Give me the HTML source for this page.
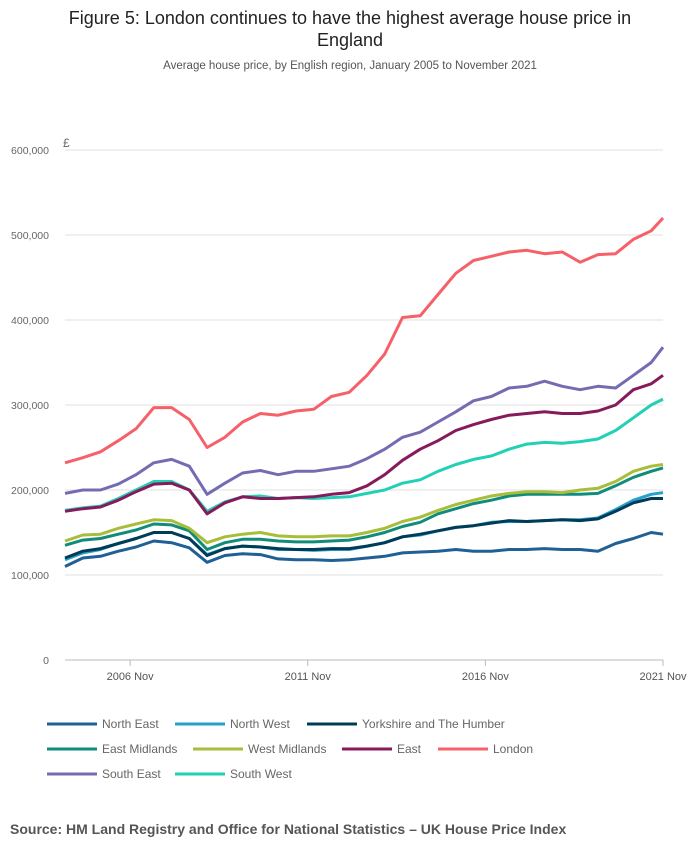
<!DOCTYPE html>
<html><head><meta charset="utf-8"><style>
body{margin:0;background:#fff;font-family:"Liberation Sans",sans-serif;}
#wrap{position:relative;width:700px;height:857px;overflow:hidden}
</style></head><body>
<div id="wrap">
<svg id="chart" width="700" height="857"></svg>
</div>
<script>
const tickValues=[0,100000,200000,300000,400000,500000,600000];
const tickLabels=["0","100,000","200,000","300,000","400,000","500,000","600,000"];
const xTickMonths=[22,82,142,202];
const xTickLabels=["2006 Nov","2011 Nov","2016 Nov","2021 Nov"];
const months=[0,6,12,18,24,30,36,42,48,54,60,66,72,78,84,90,96,102,108,114,120,126,132,138,144,150,156,162,168,174,180,186,192,198,202];
const seriesNames=["North East","North West","Yorkshire and The Humber","East Midlands","West Midlands","East","London","South East","South West"];
const northEast=[110,120,122,128,133,140,138,132,115,123,125,124,119,118,118,117,118,120,122,126,127,128,130,128,128,130,130,131,130,130,128,137,143,150,148];
const northWest=[118,126,130,137,143,150,150,143,124,131,134,133,130,130,129,130,130,134,138,145,147,152,156,158,162,163,163,164,165,165,167,177,188,195,197];
const yorkshire=[120,128,131,137,143,150,150,143,123,131,134,133,131,130,130,131,131,134,138,145,148,152,156,158,161,164,163,164,165,164,166,175,185,190,190];
const eastMidlands=[135,141,143,148,153,160,159,152,130,138,142,142,140,139,139,140,141,145,150,157,162,172,178,184,188,193,195,195,195,195,196,205,215,222,226];
const westMidlands=[140,147,148,155,160,165,164,155,138,145,148,150,146,145,145,146,146,150,155,163,168,176,183,188,193,196,198,198,197,200,202,210,222,228,230];
const east=[175,178,180,188,198,207,208,200,172,185,192,190,190,191,192,195,197,205,218,235,248,258,270,277,283,288,290,292,290,290,293,300,318,325,335];
const london=[232,238,245,258,272,297,297,283,250,262,280,290,288,293,295,310,315,335,360,403,405,430,455,470,475,480,482,478,480,468,477,478,495,505,520];
const southEast=[196,200,200,207,218,232,236,228,195,208,220,223,218,222,222,225,228,237,248,262,268,280,292,305,310,320,322,328,322,318,322,320,335,350,368];
const southWest=[176,179,181,190,200,210,210,200,175,186,192,193,190,191,190,191,192,196,200,208,212,222,230,236,240,248,254,256,255,257,260,270,285,300,307];
const allSeries=[northEast,northWest,yorkshire,eastMidlands,westMidlands,east,london,southEast,southWest];
const colors=["#206095","#27a0cc","#003c57","#118c7b","#a8bd3a","#871a5b","#f66068","#746cb1","#22d0b6"];
const NS="http://www.w3.org/2000/svg";
const svg=document.getElementById('chart');
const xS=m=>65+m*(598/202);
const yS=v=>660-v*(510/600000);
function mk(t,a,txt){const e=document.createElementNS(NS,t);for(const k in a)e.setAttribute(k,a[k]);if(txt!==undefined)e.textContent=txt;svg.appendChild(e);return e;}
let e;
e=mk('text',{x:350,y:24,'text-anchor':'middle','font-size':18,fill:'#222'},'Figure 5: London continues to have the highest average house price in');


e=mk('text',{x:350,y:46,'text-anchor':'middle','font-size':18,fill:'#222'},'England');


e=mk('text',{x:350,y:69,'text-anchor':'middle','font-size':11.5,fill:'#555'},'Average house price, by English region, January 2005 to November 2021');


e=mk('text',{x:63,y:147,'font-size':12,fill:'#666'},'£');


tickValues.forEach((v,i)=>{
 if(v>0){e=mk('line',{x1:65,x2:663,y1:yS(v),y2:yS(v),stroke:'#e2e2e2','stroke-width':1});
 
 }
 e=mk('text',{x:49,y:yS(v)+4,'text-anchor':'end','font-size':10.5,fill:'#666'},tickLabels[i]);
 
 
});
e=mk('line',{x1:65,x2:663,y1:660,y2:660,stroke:'#bbb','stroke-width':1});


xTickMonths.forEach((m,i)=>{
 e=mk('line',{x1:xS(m),x2:xS(m),y1:660,y2:666,stroke:'#bbb'});
 
 
 e=mk('text',{x:xS(m),y:680,'text-anchor':'middle','font-size':11,fill:'#555'},xTickLabels[i]);
 
 
});
const drawOrder=[0,1,2,3,4,8,5,7,6];
drawOrder.forEach(si=>{
 const d=allSeries[si].map((v,i)=>(i?'L':'M')+xS(months[i]).toFixed(1)+','+yS(v*1000).toFixed(1)).join('');
 e=mk('path',{d:d,fill:'none',stroke:colors[si],'stroke-width':3,'stroke-linejoin':'round'});
 
 
});
const legX=[47,175,307,47,193,342,438,47,175];
const legY=[724,724,724,749,749,749,749,774,774];
seriesNames.forEach((n,i)=>{
 e=mk('line',{x1:legX[i],x2:legX[i]+50,y1:legY[i],y2:legY[i],stroke:colors[i],'stroke-width':3});
 
 
 e=mk('text',{x:legX[i]+55,y:legY[i]+4,'font-size':12,fill:'#666'},n);
 
 
});
e=mk('text',{x:10,y:834,'font-size':14,'font-weight':'bold',fill:'#555'},'Source: HM Land Registry and Office for National Statistics – UK House Price Index');


</script>
</body></html>
